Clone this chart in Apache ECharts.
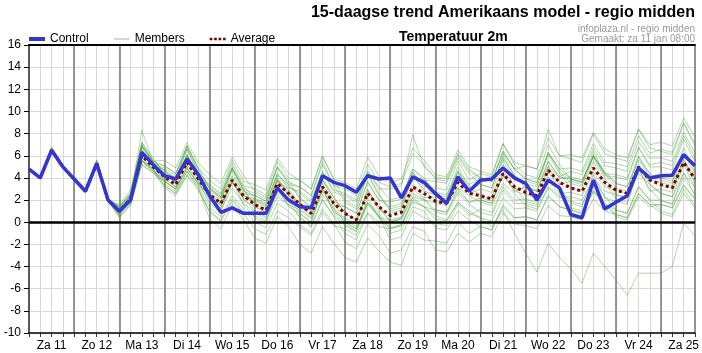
<!DOCTYPE html>
<html>
<head>
<meta charset="utf-8">
<script src="https://cdn.jsdelivr.net/npm/echarts@6/dist/echarts.min.js"></script>
<style>
html, body { margin: 0; padding: 0; background: #fff; }
#chart { width: 702px; height: 353px; }
</style>
</head>
<body>
<div id="chart"></div>
<script>
// dagen (labels op 12 uur), 4 punten per dag (6-uurlijks)
const dayLabels = ['Za 11', 'Zo 12', 'Ma 13', 'Di 14', 'Wo 15', 'Do 16', 'Vr 17', 'Za 18', 'Zo 19', 'Ma 20', 'Di 21', 'Wo 22', 'Do 23', 'Vr 24', 'Za 25']
const yTicks = [-10, 16, 2]

const control = [4.8, 4.0, 6.5, 5.0, 3.9, 2.8, 5.3, 2.0, 1.0, 2.0, 6.3, 5.2, 4.2, 3.9, 5.7, 4.3, 2.4, 0.9, 1.3, 0.8, 0.8, 0.8, 3.1, 2.0, 1.4, 1.3, 4.2, 3.6, 3.3, 2.7, 4.2, 3.9, 4.0, 2.2, 4.1, 3.6, 2.6, 1.7, 4.1, 2.8, 3.8, 3.9, 4.9, 4.0, 3.5, 2.0, 3.8, 3.1, 0.7, 0.4, 3.8, 1.2, 1.8, 2.4, 4.9, 4.0, 4.2, 4.25, 6.1, 5.1]
const average = [4.8, 4.0, 6.5, 5.0, 3.9, 2.8, 5.3, 2.0, 1.0, 2.1, 6.0, 5.0, 4.1, 3.4, 5.4, 3.9, 2.5, 1.7, 3.8, 2.4, 1.6, 1.1, 3.5, 2.6, 1.6, 0.8, 3.2, 1.7, 0.8, 0.2, 2.6, 1.4, 0.6, 0.9, 3.2, 2.6, 1.9, 1.7, 3.6, 2.6, 2.4, 2.1, 4.4, 3.2, 2.7, 2.4, 4.7, 3.6, 3.1, 2.8, 4.9, 3.6, 2.9, 2.6, 5.0, 3.8, 3.4, 3.1, 5.4, 3.9]

const members = [
  [4.9, 4.1, 6.8, 5.1, 4.0, 2.9, 5.6, 2.2, 1.2, 2.4, 6.8, 5.3, 5.1, 4.4, 6.9, 4.9, 3.8, 3.0, 5.6, 3.7, 3.4, 2.9, 5.8, 4.4, 3.8, 3.0, 5.9, 3.9, 3.6, 3.0, 5.9, 4.2, 3.6, 3.9, 6.7, 5.6, 4.3, 4.1, 6.5, 5.0, 4.6, 4.3, 7.1, 5.4, 5.1, 4.8, 7.6, 6.0, 5.7, 5.4, 8.0, 6.2, 5.8, 5.5, 8.4, 6.7, 6.4, 6.1, 8.9, 6.9],
  [4.7, 3.9, 6.3, 4.9, 3.8, 2.7, 5.1, 1.9, 0.8, 1.9, 5.5, 4.6, 3.7, 3.0, 4.9, 3.4, 2.0, 1.1, 3.1, 1.7, 0.9, 0.3, 2.7, 1.6, 0.5, -0.4, 2.1, 0.6, -0.3, -0.9, 1.7, 0.4, -0.5, -0.2, 2.2, 1.4, 0.6, 0.2, 1.8, 0.8, 0.4, -0.4, 1.1, -1.0, -2.8, -4.5, -1.9, -3.2, -4.2, -5.5, -2.8, -4.0, -5.2, -6.6, -4.6, -4.6, -4.6, -4.0, -0.1, -1.2],
  [4.8, 4.0, 6.6, 5.0, 3.9, 2.8, 5.4, 2.1, 1.1, 2.4, 6.5, 5.2, 4.4, 3.8, 6.0, 4.3, 3.3, 2.5, 5.0, 3.2, 2.2, 1.7, 4.4, 3.2, 2.6, 1.8, 4.5, 2.7, 2.4, 1.8, 4.6, 3.0, 3.0, 3.3, 7.9, 5.0, 4.1, 3.9, 6.2, 4.8, 4.0, 3.7, 6.4, 4.8, 3.9, 3.6, 6.2, 4.8, 3.9, 3.6, 6.0, 4.4, 3.5, 3.2, 6.0, 4.4, 3.8, 3.5, 6.2, 4.3],
  [4.8, 3.9, 6.4, 5.0, 3.9, 2.8, 5.2, 2.0, 0.9, 2.0, 5.6, 4.8, 3.3, 2.6, 4.6, 3.1, 0.3, -0.6, 1.6, 0.2, -1.4, -1.9, 0.5, -0.4, -2.0, -2.8, -0.4, -1.9, -3.2, -3.6, -1.4, -2.6, -3.6, -3.9, -1.0, -1.6, -1.7, -1.9, 0.0, -1.0, -0.4, -0.7, 1.6, 0.4, 0.5, 0.2, 2.5, 1.4, 1.1, 0.8, 2.9, 1.6, 1.1, 0.8, 3.2, 2.0, 2.0, 1.7, 4.0, 2.5],
  [4.9, 4.0, 6.7, 5.1, 4.0, 2.8, 5.4, 2.1, 1.4, 2.5, 6.8, 5.5, 5.6, 4.9, 7.2, 5.4, 4.3, 3.5, 5.9, 4.2, 2.8, 2.3, 5.0, 3.8, 2.1, 1.3, 4.0, 2.2, 0.8, 0.2, 2.9, 1.4, 0.1, 0.4, 3.0, 2.1, 1.1, 0.9, 3.1, 1.8, 2.0, 1.7, 4.3, 2.8, 3.2, 2.9, 5.5, 4.1, 4.6, 4.3, 6.7, 5.1, 4.9, 4.6, 7.3, 5.8, 5.8, 5.5, 8.1, 6.3],
  [4.7, 4.0, 6.4, 4.9, 3.8, 2.7, 5.2, 1.9, 0.7, 1.8, 5.5, 4.7, 3.1, 2.4, 4.2, 2.9, 1.0, 0.2, 2.1, 0.9, 0.6, 0.1, 2.3, 1.6, 1.1, 0.3, 2.5, 1.2, 0.0, -0.6, 1.6, 0.6, -1.0, -0.7, 1.4, 1.0, -0.5, -0.7, 1.0, 0.2, -0.4, -0.7, 1.4, 0.4, 0.5, 0.2, 2.3, 1.4, 1.1, 0.8, 2.7, 1.6, 0.7, 0.4, 2.6, 1.6, 0.8, 0.5, 2.6, 1.3],
  [4.8, 4.1, 6.7, 5.0, 3.9, 2.9, 5.5, 2.1, 1.3, 2.7, 6.8, 5.6, 4.6, 3.9, 6.1, 4.4, 2.5, 1.7, 4.0, 2.4, 2.1, 1.6, 4.2, 3.1, 2.8, 2.0, 4.6, 2.9, 2.6, 2.0, 4.6, 3.2, 2.0, 2.3, 4.8, 4.0, 2.7, 2.5, 4.6, 3.4, 4.0, 3.7, 6.2, 4.8, 5.1, 4.8, 8.4, 6.0, 6.1, 5.8, 8.1, 6.6, 6.1, 5.8, 8.4, 7.0, 7.2, 6.9, 9.4, 7.7],
  [4.8, 4.0, 6.5, 5.0, 3.9, 2.8, 5.3, 2.0, 0.6, 1.7, 5.6, 4.6, 3.9, 3.2, 5.2, 3.7, 2.9, 2.1, 4.2, 2.8, 2.4, 1.9, 4.3, 3.4, 2.2, 1.4, 3.8, 2.3, 0.8, 0.2, 2.6, 1.4, 0.0, 0.3, 2.6, 2.0, 0.9, 0.7, 2.6, 1.6, 0.9, 0.6, 2.9, 1.7, 1.7, 1.4, 3.7, 2.6, 2.7, 2.4, 4.5, 3.2, 2.9, 2.6, 5.0, 3.8, 3.6, 3.3, 5.6, 4.1],
  [4.8, 4.0, 6.6, 5.0, 3.9, 2.8, 5.4, 2.0, 1.2, 2.3, 8.3, 5.4, 4.7, 4.0, 6.6, 4.5, 3.4, 2.6, 5.3, 3.3, 3.0, 2.5, 5.5, 4.0, 3.8, 3.0, 6.0, 3.9, 2.0, 1.4, 4.4, 2.6, 1.0, 1.3, 4.2, 3.0, 1.9, 1.7, 4.2, 2.6, 3.0, 2.7, 5.6, 3.8, 3.7, 3.4, 6.3, 4.6, 3.5, 3.2, 5.9, 4.0, 2.5, 2.2, 5.2, 3.4, 2.6, 2.3, 5.2, 3.1],
  [4.8, 4.0, 6.4, 5.0, 3.9, 2.8, 5.2, 2.0, 0.8, 1.9, 5.6, 4.8, 3.5, 2.8, 4.6, 3.3, 1.3, 0.5, 2.4, 1.2, 0.0, -0.5, 1.7, 1.0, -0.2, -1.0, 1.2, -0.1, -1.8, -2.4, -0.2, -1.2, -2.8, -2.5, -0.4, -0.8, -2.5, -2.7, -1.0, -1.8, -1.0, -1.3, 0.8, -0.2, -0.3, -0.6, 1.5, 0.6, 0.5, 0.2, 2.1, 1.0, 0.7, 0.4, 2.6, 1.6, 1.6, 1.3, 3.4, 2.1],
  [4.8, 4.0, 6.5, 5.0, 3.9, 2.8, 5.3, 2.0, 1.6, 2.9, 7.2, 5.8, 4.3, 3.6, 6.0, 4.1, 2.1, 1.3, 3.8, 2.0, 1.4, 0.9, 3.7, 2.4, 1.8, 1.0, 3.8, 1.9, 1.4, 0.8, 3.6, 2.0, 1.8, 2.1, 4.8, 3.8, 3.7, 3.5, 5.8, 4.4, 3.4, 3.1, 5.8, 4.2, 3.1, 2.8, 5.5, 4.0, 3.9, 3.6, 6.1, 4.4, 4.3, 4.0, 6.8, 5.2, 5.4, 5.1, 7.8, 5.9],
  [4.7, 4.0, 6.6, 5.0, 3.9, 2.8, 5.4, 2.0, 0.9, 2.0, 6.5, 4.9, 4.9, 4.2, 6.8, 4.7, 3.0, 2.2, 4.9, 2.9, 1.4, 0.9, 3.9, 2.4, 0.8, 0.0, 3.0, 0.9, -0.2, -0.8, 2.2, 0.4, 0.2, 0.5, 3.4, 2.2, 2.3, 2.1, 4.6, 3.0, 3.4, 3.1, 6.0, 4.2, 3.5, 3.2, 6.1, 4.4, 3.1, 2.8, 5.5, 3.6, 2.1, 1.8, 4.8, 3.0, 1.9, 1.6, 4.5, 2.4],
  [4.8, 4.0, 6.5, 5.0, 3.9, 2.8, 5.3, 2.0, 1.4, 2.5, 7.2, 5.4, 3.9, 3.2, 6.0, 3.7, 1.7, 0.9, 3.8, 1.6, 0.4, -0.1, 3.1, 1.4, 0.8, 0.0, 3.2, 0.9, 0.4, -0.2, 3.0, 1.0, 0.8, 1.1, 4.2, 2.8, 2.5, 2.3, 5.0, 3.2, 2.4, 2.1, 5.2, 3.2, 1.9, 1.6, 4.7, 2.8, 1.7, 1.4, 4.3, 2.2, 1.9, 1.6, 4.8, 2.8, 3.0, 2.7, 5.8, 3.5],
  [4.8, 4.0, 6.6, 5.0, 3.9, 2.8, 5.4, 2.0, 1.0, 2.1, 6.4, 5.0, 4.4, 3.7, 6.1, 4.2, 3.1, 2.3, 4.8, 3.0, 2.6, 2.1, 4.9, 3.6, 3.2, 2.4, 5.2, 3.3, 3.0, 2.4, 5.2, 3.6, 3.2, 3.5, 6.2, 5.2, 3.9, 3.7, 6.0, 4.6, 4.0, 3.7, 6.4, 4.8, 3.9, 3.6, 6.3, 4.8, 4.9, 4.6, 7.1, 5.4, 5.3, 5.0, 7.8, 6.2, 6.6, 6.3, 9.0, 7.1],
  [4.8, 4.0, 6.4, 5.0, 3.9, 2.8, 5.2, 2.0, 0.5, 1.6, 5.2, 4.5, 3.3, 2.6, 4.3, 3.1, 0.9, 0.1, 1.9, 0.8, -0.6, -1.1, 1.0, 0.4, -0.4, -1.2, 0.9, -0.3, -0.6, -1.2, 0.9, 0.0, 0.0, 0.3, 2.3, 2.0, 1.7, 1.5, 3.1, 2.4, 1.8, 1.5, 3.5, 2.6, 1.5, 1.2, 3.2, 2.4, 1.3, 1.0, 2.8, 1.8, 0.5, 0.2, 2.3, 1.4, 1.6, 1.3, 3.3, 2.1],
  [4.9, 4.1, 6.7, 5.1, 4.0, 2.9, 5.6, 2.1, 1.3, 2.4, 7.0, 5.3, 4.6, 3.9, 6.6, 4.4, 2.7, 1.9, 4.7, 2.6, 2.4, 1.9, 5.0, 3.4, 3.2, 2.4, 5.5, 3.3, 1.8, 1.2, 4.3, 2.4, 1.2, 1.5, 4.5, 3.2, 3.1, 2.9, 5.5, 3.8, 4.4, 4.1, 7.1, 5.2, 4.3, 4.0, 7.0, 5.2, 3.9, 3.6, 6.4, 4.4, 3.1, 2.8, 5.9, 4.0, 4.0, 3.7, 6.7, 4.5],
  [4.7, 3.9, 6.5, 4.9, 3.8, 2.8, 5.3, 2.0, 0.8, 1.9, 5.8, 4.8, 4.3, 3.6, 5.6, 4.1, 2.3, 1.5, 3.6, 2.2, 1.0, 0.5, 2.9, 2.0, 0.4, -0.4, 2.0, 0.5, -1.0, -1.6, 0.8, -0.4, -0.6, -0.3, 2.0, 1.4, 1.1, 0.9, 2.8, 1.8, 2.2, 1.9, 4.2, 3.0, 3.1, 2.8, 5.1, 4.0, 4.1, 3.8, 5.9, 4.6, 3.5, 3.2, 5.6, 4.4, 3.4, 3.1, 5.4, 3.9],
  [4.8, 4.0, 6.5, 5.0, 3.9, 2.8, 5.3, 2.0, 1.1, 2.2, 6.1, 5.1, 3.7, 3.0, 5.0, 3.5, 2.3, 1.5, 3.6, 2.2, 1.9, 1.4, 3.8, 2.9, 1.2, 0.4, 2.8, 1.3, 0.0, -0.6, 1.8, 0.6, -1.6, -1.3, 1.0, 0.4, -0.1, -0.3, 1.6, 0.6, 1.2, 0.9, 3.2, 2.0, 2.1, 1.8, 4.1, 3.0, 1.9, 1.6, 3.7, 2.4, 1.1, 0.8, 3.2, 2.0, 1.0, 0.7, 3.0, 1.5],
  [4.8, 4.0, 6.6, 5.0, 3.9, 2.8, 5.4, 2.0, 1.5, 2.6, 7.0, 5.5, 5.1, 4.4, 6.9, 4.9, 3.1, 2.3, 4.9, 3.0, 1.6, 1.1, 4.0, 2.6, 1.4, 0.6, 3.5, 1.5, 1.4, 0.8, 3.7, 2.0, 1.4, 1.7, 4.5, 3.4, 2.3, 2.1, 4.5, 3.0, 2.0, 1.7, 4.5, 2.8, 2.5, 2.2, 5.0, 3.4, 3.7, 3.4, 6.0, 4.2, 4.1, 3.8, 6.7, 5.0, 5.0, 4.7, 7.5, 5.5],
  [4.7, 3.9, 6.3, 4.9, 3.8, 2.7, 5.1, 1.9, 0.4, 1.5, 5.2, 4.4, 3.7, 3.0, 4.8, 3.5, 2.5, 1.7, 3.6, 2.4, 2.0, 1.5, 3.7, 3.0, 1.6, 0.8, 3.0, 1.7, 0.2, -0.4, 1.8, 0.8, -0.6, -0.3, 1.8, 1.4, 0.3, 0.1, 1.8, 1.0, 0.4, 0.1, 2.2, 1.2, 1.3, 1.0, 3.1, 2.2, 2.3, 2.0, 3.9, 2.8, 2.5, 2.2, 4.4, 3.4, 2.6, 2.3, 4.4, 3.1]
]

const font = '"Liberation Sans", Arial, sans-serif'
const controlColor = '#3535d4'
const averageColor = '#800000'
const memberColor = 'rgba(70, 160, 55, 0.42)'

let chart = echarts.init(document.getElementById('chart'), null, { renderer: 'canvas' })

const toPoints = arr => arr.map((v, i) => [i, v])

let seriesData = []
for (let k = 0; k < members.length; k++) {
  let s = {
    name: 'Members',
    type: 'line',
    data: toPoints(members[k]),
    symbol: 'none',
    silent: true,
    lineStyle: { color: memberColor, width: 1 },
    z: 2
  }
  if (k === 0) {
    // dikke nullijn
    s.markLine = {
      silent: true,
      symbol: 'none',
      label: { show: false },
      lineStyle: { color: '#000', width: 2.5, type: 'solid' },
      data: [{ yAxis: 0 }]
    }
  }
  seriesData.push(s)
}
seriesData.push({
  name: 'Average',
  type: 'line',
  data: toPoints(average),
  symbol: 'none',
  silent: true,
  lineStyle: { color: averageColor, width: 3, type: [3, 3], cap: 'butt' },
  z: 3
})
seriesData.push({
  name: 'Control',
  type: 'line',
  data: toPoints(control),
  symbol: 'none',
  silent: true,
  lineStyle: { color: controlColor, width: 3.5 },
  z: 4
})

let option = {
  animation: false,
  backgroundColor: '#fff',
  textStyle: { fontFamily: font },
  grid: { left: 29, right: 6, top: 45, bottom: 20 },
  legend: {
    left: 29,
    top: 33,
    padding: 0,
    itemWidth: 16,
    itemHeight: 4,
    itemGap: 25,
    selectedMode: false,
    textStyle: { fontSize: 12, color: '#000', fontFamily: font },
    data: [
      { name: 'Control', icon: 'rect', itemStyle: { color: controlColor } },
      { name: 'Members', icon: 'path://M0,0h16v1.5h-16z', itemStyle: { color: '#b5dcae' } },
      { name: 'Average', icon: 'path://M0,0h3v3h-3zM5,0h3v3h-3zM10,0h3v3h-3zM15,0h3v3h-3z', itemStyle: { color: averageColor } }
    ]
  },
  graphic: [
    { type: 'text', right: 7, top: 5, style: { text: '15-daagse trend Amerikaans model - regio midden', font: 'bold 16px ' + font, fill: '#000' } },
    { type: 'text', left: 399, top: 30, style: { text: 'Temperatuur 2m', font: 'bold 14px ' + font, fill: '#000' } },
    { type: 'text', right: 7, top: 24, style: { text: 'infoplaza.nl - regio midden', font: '10px ' + font, fill: '#999' } },
    { type: 'text', right: 7, top: 34, style: { text: 'Gemaakt: za 11 jan 08:00', font: '10px ' + font, fill: '#999' } }
  ],
  xAxis: [
    {
      type: 'value',
      min: 0,
      max: 59,
      interval: 1,
      position: 'bottom',
      axisLine: { show: true, onZero: false, lineStyle: { color: '#000', width: 1.5 } },
      axisTick: { show: true, length: 4, lineStyle: { color: '#333' } },
      axisLabel: {
        color: '#000',
        fontSize: 12,
        margin: 7,
        formatter: v => {
          let i = Math.round(v)
          return i % 4 === 2 ? dayLabels[(i - 2) / 4] : ''
        }
      },
      splitLine: { show: true, lineStyle: { color: '#d8d8d8', width: 1 } }
    },
    {
      type: 'value',
      min: 0,
      max: 59,
      interval: 4,
      position: 'top',
      axisLine: { show: true, onZero: false, lineStyle: { color: '#000', width: 2 } },
      axisTick: { show: false },
      axisLabel: { show: false },
      splitLine: { show: true, lineStyle: { color: '#777', width: 1.5 } }
    }
  ],
  yAxis: {
    type: 'value',
    min: yTicks[0],
    max: yTicks[1],
    interval: yTicks[2],
    axisLine: { show: true, lineStyle: { color: '#444', width: 1.5 } },
    axisTick: { show: true, length: 5, lineStyle: { color: '#000' } },
    axisLabel: { color: '#000', fontSize: 12, margin: 8 },
    splitLine: { show: true, lineStyle: { color: '#d8d8d8', width: 1 } }
  },
  series: seriesData
}

chart.setOption(option)
</script>
</body>
</html>
